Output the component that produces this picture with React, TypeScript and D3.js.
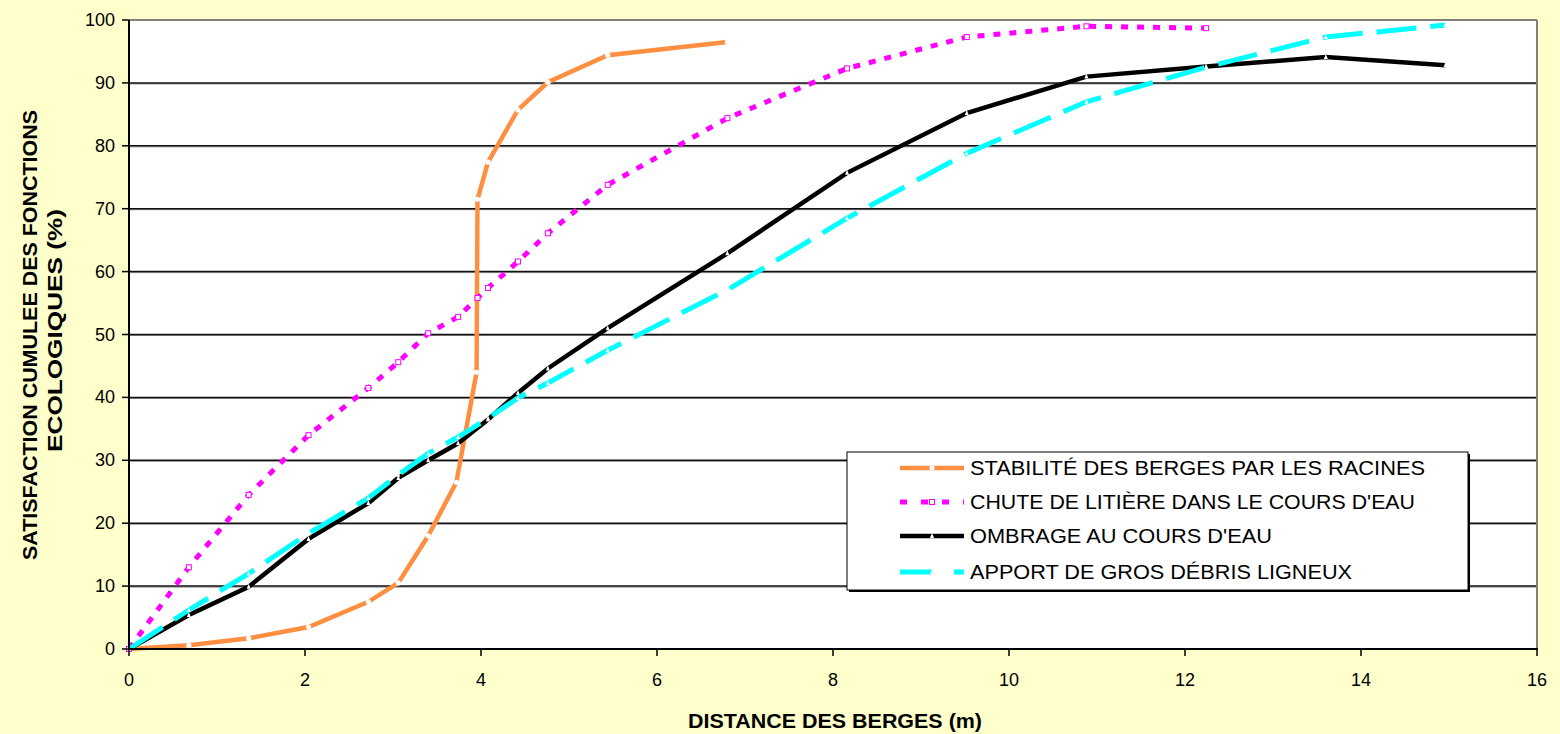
import React from "react";
import * as d3 from "d3";

const W = 1560;
const H = 734;

const xTicks = [0, 2, 4, 6, 8, 10, 12, 14, 16];
const yTicks = [0, 10, 20, 30, 40, 50, 60, 70, 80, 90, 100];

const stabiliteX = [0, 0.68, 1.36, 2.04, 2.72, 3.06, 3.4, 3.72, 3.95, 3.96, 4.08, 4.42, 4.76, 5.44, 6.8];
const stabiliteY = [0, 0.6, 1.7, 3.5, 7.5, 10.5, 18, 26.5, 44, 71.5, 77.4, 85.7, 90.1, 94.4, 96.5];

const litiereX = [0, 0.68, 1.36, 2.04, 2.72, 3.06, 3.4, 3.74, 3.96, 4.08, 4.42, 4.76, 5.44, 6.8, 8.16, 9.52, 10.88, 12.24];
const litiereY = [0, 13, 24.5, 34, 41.5, 45.6, 50.2, 52.8, 55.8, 57.4, 61.6, 66.1, 73.8, 84.4, 92.3, 97.3, 99, 98.7];

const ombrageX = [0, 0.68, 1.36, 2.04, 2.72, 3.06, 3.4, 3.74, 4.08, 4.42, 4.76, 5.44, 6.8, 8.16, 9.52, 10.88, 12.24, 13.6, 14.96];
const ombrageY = [0, 5.4, 9.9, 17.5, 23.2, 27.2, 30, 32.7, 36.5, 40.7, 44.6, 51, 62.9, 75.7, 85.2, 91, 92.6, 94.1, 92.8];

const apportX = [0, 0.68, 1.36, 2.04, 2.72, 3.06, 3.4, 3.74, 4.08, 4.42, 4.76, 5.44, 6.8, 8.16, 9.52, 10.88, 12.24, 13.6, 14.96];
const apportY = [0, 6.2, 12, 18.4, 24, 27.7, 31.1, 33.7, 36.7, 39.9, 42.3, 47.5, 57.1, 68.5, 78.8, 87, 92.5, 97.3, 99.2];

const seriesNames = [
  "STABILITÉ DES BERGES PAR LES RACINES",
  "CHUTE DE LITIÈRE DANS LE COURS D'EAU",
  "OMBRAGE AU COURS D'EAU",
  "APPORT DE GROS DÉBRIS LIGNEUX",
];

const FONT = "'Liberation Sans', Arial, sans-serif";

export default function App() {
  const left = 129, right = 1537, top = 20, bottom = 649;
  const x = d3.scaleLinear().domain([0, 16]).range([left, right]);
  const y = d3.scaleLinear().domain([0, 100]).range([bottom, top]);

  const mk = (xs: number[], ys: number[]) => xs.map((v, i) => [v, ys[i]] as [number, number]);
  const line = d3.line<[number, number]>().x((d) => x(d[0])).y((d) => y(d[1]));

  const series = [
    { pts: mk(stabiliteX, stabiliteY), color: "#FF8F40", dash: "", width: 4.5, marker: "circle", ldash: "", lw: 455 },
    { pts: mk(litiereX, litiereY), color: "#FF00FF", dash: "7 9", width: 5, marker: "square", ldash: "7 14", lw: 445 },
    { pts: mk(ombrageX, ombrageY), color: "#000000", dash: "", width: 4.5, marker: "triangle", ldash: "", lw: 302 },
    { pts: mk(apportX, apportY), color: "#00FFFF", dash: "40 14", width: 5, marker: "tri2", ldash: "32 22", lw: 382 },
  ];

  const marker = (kind: string, cx: number, cy: number, color: string, key: string) => {
    if (kind === "circle") return <circle key={key} cx={cx} cy={cy} r={2.6} fill="#fff" />;
    if (kind === "square")
      return <rect key={key} x={cx - 2.5} y={cy - 2.5} width={5} height={5} fill="#fff" stroke={color} strokeWidth={1} />;
    if (kind === "triangle")
      return <path key={key} d={`M${cx},${cy - 3} L${cx + 2},${cy + 2} L${cx - 2},${cy + 2}Z`} fill="#fff" />;
    return <path key={key} d={`M${cx},${cy - 2.5} L${cx + 2},${cy + 2} L${cx - 2},${cy + 2}Z`} fill="#fff" />;
  };

  const legendX = 847, legendY = 452, legendW = 621, legendH = 138;
  const rowY = [468, 502, 536, 572];

  return (
    <div style={{ position: "fixed", left: 0, top: 0 }}>
      <svg width={W} height={H} style={{ display: "block" }}>
        <rect x={0} y={0} width={W} height={H} fill="#FFFFCC" />
        <rect x={left} y={top} width={right - left} height={bottom - top} fill="#fff" />
        {yTicks.slice(1, -1).map((t) => (
          <g key={"g" + t}>
            <line x1={left} x2={right} y1={y(t) + 1} y2={y(t) + 1} stroke="#888" strokeWidth={1} />
            <line x1={left} x2={right} y1={y(t)} y2={y(t)} stroke="#111" strokeWidth={1.5} />
          </g>
        ))}
        <line x1={left} x2={right} y1={top} y2={top} stroke="#808080" strokeWidth={2} />
        <line x1={right} x2={right} y1={top} y2={bottom} stroke="#808080" strokeWidth={2} />
        {series.map((s, i) => (
          <g key={"s" + i}>
            <path d={line(s.pts) || ""} fill="none" stroke={s.color} strokeWidth={s.width} strokeDasharray={s.dash} strokeLinejoin="miter" />
            {s.pts.map((p, j) => marker(s.marker, x(p[0]), y(p[1]), s.color, `m${i}-${j}`))}
          </g>
        ))}
        <line x1={left} x2={left} y1={top} y2={bottom + 1} stroke="#000" strokeWidth={2} />
        <line x1={left - 1} x2={right + 1} y1={bottom} y2={bottom} stroke="#000" strokeWidth={2} />
        {yTicks.map((t) => (
          <g key={"yt" + t}>
            <line x1={left - 7} x2={left} y1={y(t)} y2={y(t)} stroke="#000" strokeWidth={1.5} />
            <text x={left - 14} y={y(t) + 6} textAnchor="end" fontFamily={FONT} fontSize={18} fill="#000">
              {t}
            </text>
          </g>
        ))}
        {xTicks.map((t) => (
          <g key={"xt" + t}>
            <line x1={x(t)} x2={x(t)} y1={bottom} y2={bottom + 7} stroke="#000" strokeWidth={1.5} />
            <text x={x(t)} y={bottom + 37} textAnchor="middle" fontFamily={FONT} fontSize={18} fill="#000">
              {t}
            </text>
          </g>
        ))}
        <text x={688} y={728} fontFamily={FONT} fontSize={21} fontWeight="bold" fill="#000" textLength={294} lengthAdjust="spacingAndGlyphs">
          DISTANCE DES BERGES (m)
        </text>
        <text transform="translate(37,560) rotate(-90)" fontFamily={FONT} fontSize={21} fontWeight="bold" fill="#000" textLength={450} lengthAdjust="spacingAndGlyphs">
          SATISFACTION CUMULEE DES FONCTIONS
        </text>
        <text transform="translate(62,452) rotate(-90)" fontFamily={FONT} fontSize={21} fontWeight="bold" fill="#000" textLength={243} lengthAdjust="spacingAndGlyphs">
          ECOLOGIQUES (%)
        </text>
        <rect x={legendX + 2} y={legendY + 2} width={legendW} height={legendH} fill="#000" />
        <rect x={legendX} y={legendY} width={legendW} height={legendH} fill="#fff" stroke="#000" strokeWidth={1} />
        {series.map((s, i) => (
          <g key={"l" + i}>
            <line x1={900} x2={964} y1={rowY[i]} y2={rowY[i]} stroke={s.color} strokeWidth={s.width} strokeDasharray={s.ldash} />
            {marker(s.marker, 932, rowY[i], s.color, "lm" + i)}
            <text x={970} y={rowY[i] + 7} fontFamily={FONT} fontSize={20.5} fill="#000" textLength={s.lw} lengthAdjust="spacingAndGlyphs">
              {seriesNames[i]}
            </text>
          </g>
        ))}
      </svg>
    </div>
  );
}
